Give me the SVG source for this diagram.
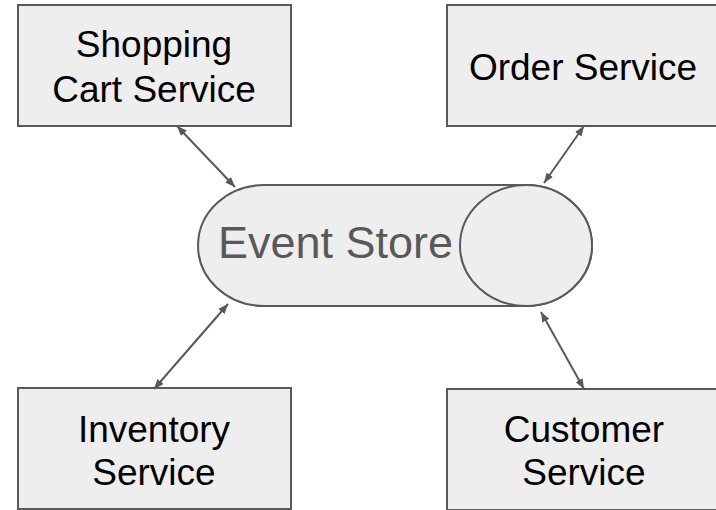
<svg xmlns="http://www.w3.org/2000/svg" width="716" height="510" viewBox="0 0 716 510">
<defs>
<style>
.box{fill:#eeeeee;stroke:#595959;stroke-width:2}
.lbl{font-family:"Liberation Sans",Arial,sans-serif;font-size:37px;fill:#000000;text-anchor:middle}
.es{font-family:"Liberation Sans",Arial,sans-serif;font-size:45px;fill:#595959}
.conn{stroke:#595959;stroke-width:2;fill:none;marker-start:url(#ah);marker-end:url(#ah)}
</style>
<marker id="ah" viewBox="0 0 10 8" refX="10" refY="4" markerWidth="10" markerHeight="8" markerUnits="userSpaceOnUse" orient="auto-start-reverse">
<path d="M0,0 L10,4 L0,8 Z" fill="#595959"/>
</marker>
</defs>
<rect width="716" height="510" fill="#ffffff"/>
<g id="shopping-cart">
<rect class="box" x="18" y="5" width="273" height="121"/>
<text class="lbl" x="154" y="57">Shopping</text>
<text class="lbl" x="154" y="102">Cart Service</text>
</g>
<g id="order-service">
<rect class="box" x="447" y="5" width="273" height="121"/>
<text class="lbl" x="583" y="80">Order Service</text>
</g>
<g id="inventory-service">
<rect class="box" x="18" y="388" width="273" height="121"/>
<text class="lbl" x="154" y="442">Inventory</text>
<text class="lbl" x="154" y="485">Service</text>
</g>
<g id="customer-service">
<rect class="box" x="447" y="389" width="273" height="121"/>
<text class="lbl" x="584" y="442">Customer</text>
<text class="lbl" x="584" y="485">Service</text>
</g>
<g id="event-store">
<path class="box" d="M264,185 L526,185 A66,60.5 0 0 1 526,306 L264,306 A66,60.5 0 0 1 264,185 Z"/>
<ellipse class="box" cx="526" cy="245.5" rx="66" ry="60.5"/>
<text class="es" x="218" y="258">Event Store</text>
</g>
<g id="connectors">
<line class="conn" x1="177" y1="126" x2="235" y2="187"/>
<line class="conn" x1="584" y1="126" x2="544" y2="183"/>
<line class="conn" x1="228" y1="304" x2="154" y2="389"/>
<line class="conn" x1="541" y1="312" x2="584" y2="389"/>
</g>
</svg>
